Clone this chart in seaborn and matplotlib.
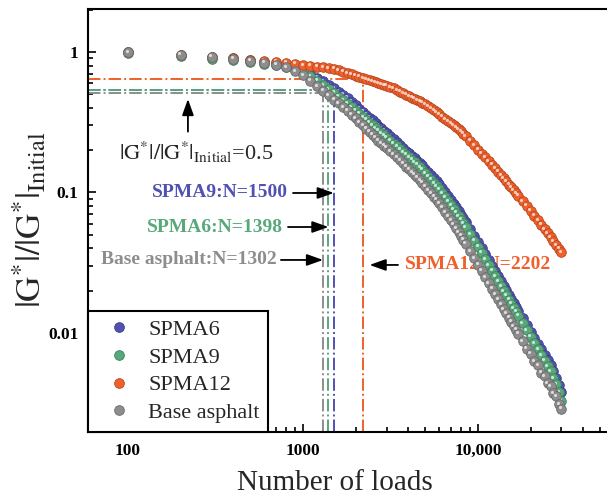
import matplotlib
matplotlib.use("Agg")
import matplotlib.pyplot as plt
import matplotlib.transforms as mtransforms
from matplotlib.colors import to_rgb
from matplotlib.lines import Line2D
from matplotlib.ticker import FixedLocator, FixedFormatter, LogLocator, NullFormatter
import pandas as pd
import seaborn as sns

# ---------------------------------------------------------------- data
loads = [100, 200, 300, 400, 500, 600, 700, 800, 900, 1000,
         1100, 1200, 1300, 1400, 1500, 1600, 1700, 1800, 1900, 2000,
         2100, 2200, 2300, 2400, 2500, 2600, 2700, 2800, 2900, 3000,
         3150, 3300, 3450, 3600, 3750, 3900, 4050, 4200, 4350, 4500, 4650, 4800,
         5000, 5200, 5400, 5600, 5800, 6000,
         6250, 6500, 6750, 7000, 7250, 7500, 7750, 8000, 8250, 8500,
         9000, 9500, 10000,
         10500, 11000, 11500, 12000, 12500, 13000, 13500, 14000, 14500, 15000,
         15500, 16000, 16500, 17000,
         18000, 19000, 20000, 21000, 22000, 23000, 24000, 25000, 26000, 27000,
         28000, 29000, 30000]

spma6 = [0.992, 0.951, 0.920, 0.899, 0.877, 0.854, 0.833, 0.805, 0.778, 0.751,
         0.704, 0.658, 0.618, 0.581, 0.550, 0.522, 0.497, 0.473, 0.444, 0.418,
         0.396, 0.375, 0.357, 0.340, 0.326, 0.312, 0.299, 0.287, 0.276, 0.266,
         0.252, 0.239, 0.2275, 0.2165, 0.2070, 0.198, 0.1899, 0.1822, 0.1754, 0.1688, 0.1622, 0.1559,
         0.1475, 0.1396, 0.1327, 0.1262, 0.1203, 0.1147,
         0.1071, 0.1001, 0.0939, 0.0881, 0.0830, 0.0782, 0.0738, 0.0696, 0.0655, 0.0617,
         0.0550, 0.0494, 0.0446,
         0.0403, 0.0364, 0.0331, 0.0301, 0.0276, 0.0253, 0.02338, 0.0216, 0.0201, 0.0187,
         0.01748, 0.01634, 0.01534, 0.01440,
         0.01276, 0.01140, 0.01023, 0.00925, 0.00839, 0.00764, 0.00700, 0.00643, 0.00590, 0.00536,
         0.00480, 0.00425, 0.00380]

spma9 = [0.984, 0.936, 0.898, 0.876, 0.848, 0.826, 0.806, 0.779, 0.753, 0.721,
         0.671, 0.624, 0.582, 0.545, 0.512, 0.481, 0.454, 0.429, 0.405, 0.383,
         0.364, 0.345, 0.329, 0.314, 0.300, 0.287, 0.276, 0.265, 0.255, 0.246,
         0.234, 0.2227, 0.2125, 0.2028, 0.1940, 0.1856, 0.1780, 0.1707, 0.1642, 0.158, 0.1517, 0.1457,
         0.1376, 0.1299, 0.1232, 0.1169, 0.1112, 0.1057,
         0.0988, 0.0923, 0.0865, 0.0811, 0.0764, 0.0720, 0.0679, 0.0641, 0.0603, 0.0568,
         0.0507, 0.0455, 0.0411,
         0.0372, 0.0336, 0.0305, 0.0277, 0.0254, 0.0233, 0.02153, 0.0199, 0.01852, 0.01723,
         0.01611, 0.01506, 0.01414, 0.01327,
         0.01175, 0.01049, 0.00939, 0.00846, 0.00767, 0.00697, 0.00637, 0.00583, 0.00533, 0.00478,
         0.00430, 0.00380, 0.00330]

spma12 = [1.000, 0.959, 0.927, 0.906, 0.884, 0.869, 0.855, 0.840, 0.826, 0.808,
          0.797, 0.787, 0.778, 0.770, 0.760, 0.741, 0.723, 0.707, 0.692, 0.678,
          0.665, 0.653, 0.641, 0.630, 0.620, 0.610, 0.600, 0.591, 0.582, 0.574,
          0.562, 0.551, 0.536, 0.522, 0.509, 0.497, 0.485, 0.474, 0.464, 0.454, 0.445, 0.436,
          0.424, 0.413, 0.399, 0.385, 0.373, 0.3605,
          0.347, 0.334, 0.323, 0.312, 0.302, 0.292, 0.283, 0.2735, 0.2625, 0.252,
          0.233, 0.2164, 0.2018,
          0.1893, 0.1775, 0.1672, 0.1575, 0.1488, 0.1405, 0.1330, 0.1259, 0.1198, 0.1139,
          0.1086, 0.1036, 0.0991, 0.0948,
          0.0871, 0.0804, 0.0740, 0.0684, 0.0634, 0.0589, 0.0549, 0.0513, 0.0479, 0.0449,
          0.0422, 0.0398, 0.0375]

base_asphalt = [1.000, 0.959, 0.927, 0.898, 0.869, 0.839, 0.812, 0.778, 0.732, 0.686,
                0.624, 0.572, 0.529, 0.491, 0.459, 0.431, 0.406, 0.382, 0.358, 0.337,
                0.318, 0.300, 0.285, 0.270, 0.257, 0.245, 0.234, 0.224, 0.216, 0.208,
                0.197, 0.187, 0.178, 0.169, 0.161, 0.153, 0.146, 0.140, 0.134, 0.128, 0.1226, 0.1175,
                0.1107, 0.1042, 0.0987, 0.0934, 0.0886, 0.0841,
                0.0782, 0.0727, 0.0679, 0.0634, 0.0595, 0.0558, 0.0524, 0.0493, 0.0462, 0.0433,
                0.0383, 0.0342, 0.0307,
                0.0277, 0.0250, 0.0227, 0.0206, 0.01893, 0.0174, 0.01605, 0.0148, 0.01378, 0.01283,
                0.0120, 0.01122, 0.01053, 0.00988,
                0.00875, 0.00775, 0.00712, 0.00630, 0.00590, 0.00520, 0.00495, 0.00440, 0.00418, 0.00372,
                0.00355, 0.00312, 0.00290]

series_names = ["SPMA6", "SPMA9", "SPMA12", "Base asphalt"]
series_values = [spma6, spma9, spma12, base_asphalt]

# failure criterion: load where the modulus ratio reaches the criterion level
criterion_loads = [1500, 1398, 2202, 1302]
criterion_levels = [0.540, 0.535, 0.645, 0.510]
criterion_labels = ["SPMA9:N=1500", "SPMA6:N=1398", "SPMA12:N=2202", "Base asphalt:N=1302"]

x_ticks = [100, 1000, 10000]
x_tick_labels = ["100", "1000", "10,000"]
y_ticks = [0.01, 0.1, 1]
y_tick_labels = ["0.01", "0.1", "1"]

# ---------------------------------------------------------------- style
BLUE, GREEN, ORANGE, GRAY = "#5151b3", "#57a97b", "#f0602b", "#8d8d8d"
colors = [BLUE, GREEN, ORANGE, GRAY]


def shade(c, f):
    r, g, b = to_rgb(c)
    return (r * f, g * f, b * f)


sns.set_style("ticks")
plt.rcParams["font.family"] = ["Liberation Serif", "DejaVu Serif"]
plt.rcParams["mathtext.fontset"] = "stix"

W, H = 607, 495
fig = plt.figure(figsize=(W / 100, H / 100), dpi=100)
ax = fig.add_axes([88 / W, (H - 432) / H, (653 - 88) / W, (432 - 9) / H])
ax.set_xscale("log")
ax.set_yscale("log")
ax.set_xlim(59.07, 1.0e5)
ax.set_ylim(0.001974, 2.023)

# ---------------------------------------------------------------- spheres
highlight = mtransforms.offset_copy(ax.transData, fig=fig, x=-1.3, y=1.4, units="dots")
for name, vals, col in zip(series_names, series_values, colors):
    df = pd.DataFrame({"loads": loads, "ratio": vals})
    sns.scatterplot(data=df, x="loads", y="ratio", color=col, s=48,
                    edgecolor=shade(col, 0.75), linewidth=0.6, ax=ax,
                    legend=False, zorder=3)
    ax.scatter(df["loads"], df["ratio"], s=5, color="white", alpha=0.7,
               linewidths=0, transform=highlight, zorder=3)

# ---------------------------------------------------------------- criterion lines
line_colors = [BLUE, GREEN, ORANGE, GRAY]
x_left = ax.get_xlim()[0]
y_bottom = ax.get_ylim()[0]
for n, lvl, col in zip(criterion_loads, criterion_levels, line_colors):
    ax.plot([x_left, n], [lvl, lvl], ls="-.", lw=1.4, color=col, zorder=2)
    ax.plot([n, n], [y_bottom, lvl], ls="-.", lw=1.4, color=col, zorder=2)

# ---------------------------------------------------------------- annotations
arrow = dict(arrowstyle="-|>,head_length=0.7,head_width=0.25", color="black",
             lw=1.3, shrinkA=0, shrinkB=0, mutation_scale=14)

ax.annotate("", xy=(220, 0.463), xytext=(220, 0.271), arrowprops=arrow)
ax.text(245, 0.194, r"$|\mathrm{G}^{*}|/|\mathrm{G}^{*}|_{\mathrm{Initial}}$=0.5",
        ha="center", va="center", fontsize=16)

label_pos = [(821, 0.0992, "right"), (769, 0.0568, "right"),
             (3830, 0.0305, "left"), (710, 0.0331, "right")]
tail_pos = [877, 821, 3490, 748]
label_colors = [BLUE, GREEN, ORANGE, GRAY]
for txt, (tx, ty, ha), tail, n, col in zip(criterion_labels, label_pos, tail_pos,
                                           criterion_loads, label_colors):
    ax.text(tx, ty, txt, ha=ha, va="center", fontsize=14, fontweight="bold",
            color=col, zorder=2.5)
    tip = n if ha == "right" else n * 1.09
    ax.annotate("", xy=(tip, ty), xytext=(tail, ty), arrowprops=arrow)

# ---------------------------------------------------------------- axes
ax.xaxis.set_major_locator(FixedLocator(x_ticks))
ax.xaxis.set_major_formatter(FixedFormatter(x_tick_labels))
ax.xaxis.set_minor_locator(LogLocator(base=10, subs=range(2, 10)))
ax.xaxis.set_minor_formatter(NullFormatter())
ax.yaxis.set_major_locator(FixedLocator(y_ticks))
ax.yaxis.set_major_formatter(FixedFormatter(y_tick_labels))
ax.yaxis.set_minor_locator(LogLocator(base=10, subs=range(2, 10)))
ax.yaxis.set_minor_formatter(NullFormatter())
ax.tick_params(which="both", direction="in", width=1.2, colors="black")
ax.tick_params(which="major", length=6)
ax.tick_params(which="minor", length=3.5)
ax.tick_params(axis="x", which="major", pad=8, labelsize=12.5)
ax.tick_params(axis="y", which="major", pad=7, labelsize=12.5)
for lab in ax.get_xticklabels() + ax.get_yticklabels():
    lab.set_fontweight("bold")
for side in ["left", "bottom", "top", "right"]:
    ax.spines[side].set_visible(True)
    ax.spines[side].set_linewidth(1.5)
    ax.spines[side].set_color("black")
ax.set_xlabel("")
ax.set_ylabel("")

fig.text(335 / W, 1 - 483 / H, "Number of loads", ha="center", va="center", fontsize=21)
fig.text(30 / W, 1 - 220 / H, r"$|\mathrm{G}^{*}|/|\mathrm{G}^{*}|_{\mathrm{Initial}}$",
         ha="center", va="center", rotation=90, fontsize=25)

# ---------------------------------------------------------------- legend
handles = [Line2D([], [], ls="", marker="o", markersize=7, markerfacecolor=c,
                  markeredgecolor=shade(c, 0.75), markeredgewidth=0.6)
           for c in colors]
leg = ax.legend(handles, series_names, loc="lower left", bbox_to_anchor=(0, 0),
                borderaxespad=0, fontsize=16, frameon=True, fancybox=False,
                handlelength=2.0, handletextpad=0.3, borderpad=0.4,
                labelspacing=0.32)
leg.get_frame().set_edgecolor("black")
leg.get_frame().set_linewidth(1.5)
leg.get_frame().set_alpha(1)
leg.set_zorder(5)

fig.savefig("out.png", dpi=100)
